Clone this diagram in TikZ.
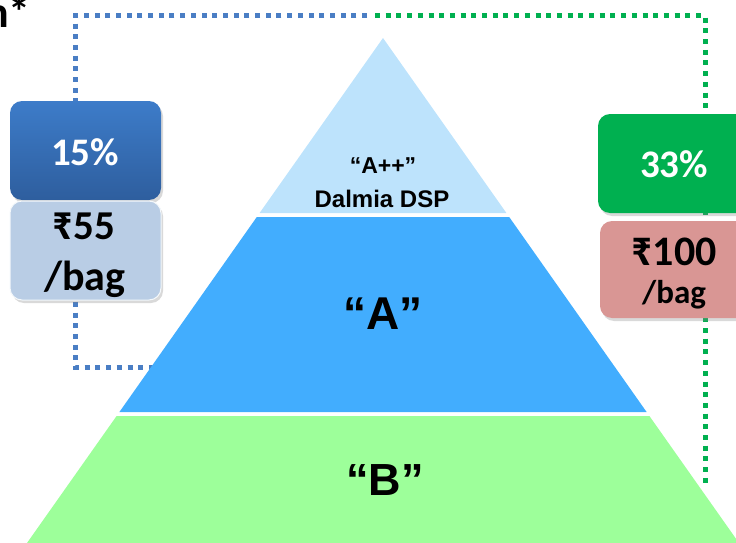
\documentclass[tikz,border=0pt]{standalone}
\usepackage{fontspec}
\setmainfont{Carlito}
\newfontfamily\arialfont{Liberation Sans}
\usetikzlibrary{shadows}
\definecolor{topblue}{HTML}{BDE3FC}
\definecolor{midblue}{HTML}{42ADFE}
\definecolor{botgreen}{HTML}{9DFF9A}
\definecolor{boxblueA}{HTML}{3D7CC9}
\definecolor{boxblueB}{HTML}{2E5E9E}
\definecolor{lightbox}{HTML}{B9CDE5}
\definecolor{greenbox}{HTML}{00B050}
\definecolor{pinkbox}{HTML}{D99694}
\definecolor{dotblue}{HTML}{4A7EC4}
\definecolor{dotgreen}{HTML}{00B050}
\tikzset{
  dotline/.style={line width=5pt, dash pattern=on 5pt off 5.7pt},
  dotshadow/.style={dotline, black, opacity=0.15, shift={(1.5,1.5)}},
  cardbox/.style={rounded corners=12pt, drop shadow={opacity=0.3, shadow xshift=2pt, shadow yshift=-3pt}},
  boxtxt/.style={font=\bfseries, inner sep=0pt},
  pyrtxt/.style={font=\arialfont\bfseries, inner sep=0pt},
}
\newcommand{\rup}{₹}
\begin{document}
\begin{tikzpicture}[x=1pt,y=-1pt]
\useasboundingbox (0,0) rectangle (736,543);
\begin{scope}
\clip (0,0) rectangle (736,543);
% title fragment
\node[anchor=base east, inner sep=0pt, font=\bfseries\fontsize{44}{44}\selectfont] (ttl) at (31,28) {n*};
% coordinates for the dotted connectors
\coordinate (bA) at (367,16);
\coordinate (bB) at (75,16);
\coordinate (bC) at (75,367);
\coordinate (bD) at (158,367);
\coordinate (gA) at (375,16);
\coordinate (gB) at (705,16);
\coordinate (gC) at (705,488);
\draw[dotshadow] (gA) -- (gB) -- (gC);
\draw[dotshadow] (bA) -- (bB) -- (bC) -- (bD);
\draw[dotline, dotgreen] (gA) -- (gB) -- (gC);
\draw[dotline, dotblue] (bA) -- (bB) -- (bC) -- (bD);
% pyramid tiers
\fill[topblue] (383,38) -- (506.4,213) -- (259.6,213) -- cycle;
\fill[midblue] (256.8,217) -- (509.2,217) -- (646.6,412) -- (119.4,412) -- cycle;
\fill[botgreen] (116.6,416) -- (649.4,416) -- (739,543) -- (27,543) -- cycle;
\node[pyrtxt, font=\arialfont\bfseries\fontsize{23}{23}\selectfont, anchor=base] (app) at (383,173) {“A++”};
\node[pyrtxt, font=\arialfont\bfseries\fontsize{24}{24}\selectfont, anchor=base] (dsp) at (382,207) {Dalmia DSP};
\node[pyrtxt, font=\arialfont\bfseries\fontsize{46}{46}\selectfont, anchor=base] (ta) at (383,329) {“A”};
\node[pyrtxt, font=\arialfont\bfseries\fontsize{45}{45}\selectfont, anchor=base] (tb) at (385,495) {“B”};
% left boxes
\shade[cardbox, top color=boxblueA, bottom color=boxblueB] (10,101) rectangle (161,200);
\node[boxtxt, text=white, font=\bfseries\fontsize{39}{39}\selectfont, anchor=base] (p15) at (85,165) {15\%};
\draw[cardbox, fill=lightbox, draw=white!85!lightbox, line width=1pt] (10,201) rectangle (161,300);
\node[boxtxt, font=\bfseries\fontsize{41}{41}\selectfont, anchor=base] (r55) at (84,239) {\rup55};
\node[boxtxt, font=\bfseries\fontsize{42}{42}\selectfont, anchor=base] (bag1) at (85,290) {/bag};
% right boxes
\fill[cardbox, greenbox] (598,114) rectangle (750,213);
\node[boxtxt, text=white, font=\bfseries\fontsize{39}{39}\selectfont, anchor=base] (p33) at (674,177) {33\%};
\fill[cardbox, pinkbox] (600,221) rectangle (750,318);
\node[boxtxt, font=\bfseries\fontsize{42}{42}\selectfont, anchor=base] (r100) at (674,265) {\rup100};
\node[boxtxt, font=\bfseries\fontsize{33}{33}\selectfont, anchor=base] (bag2) at (674,303) {/bag};
\end{scope}
\end{tikzpicture}
\end{document}
